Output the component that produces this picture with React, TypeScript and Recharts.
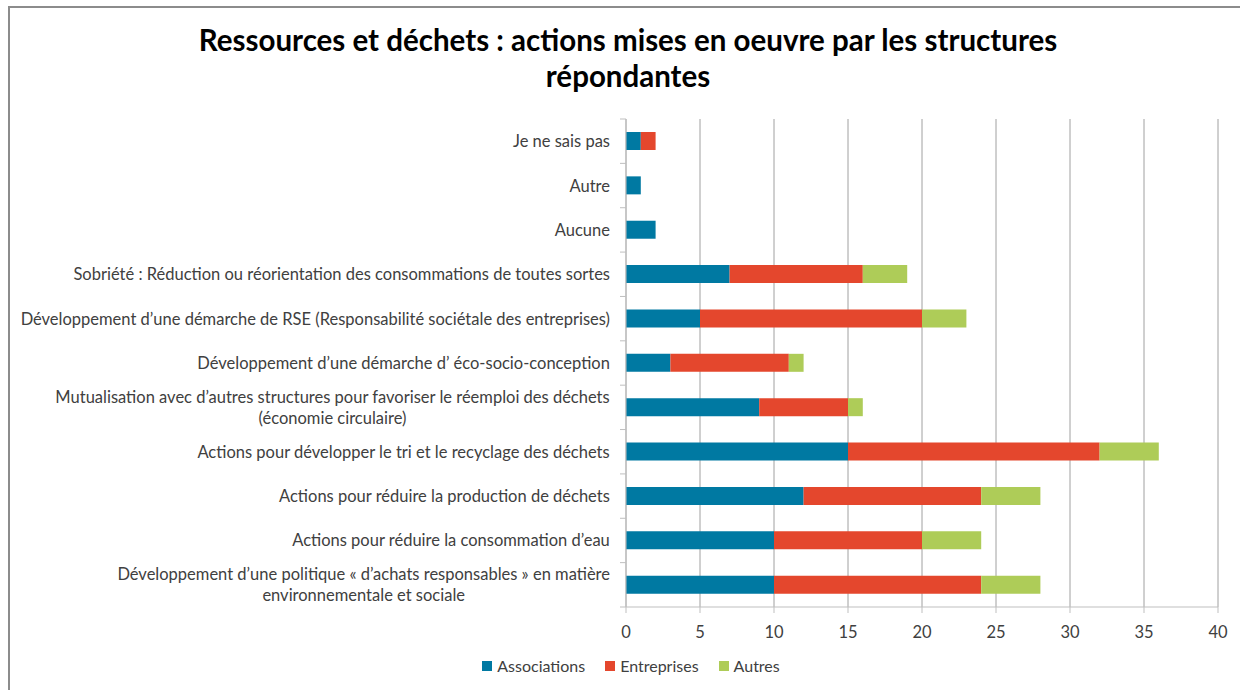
import React from "react";
import { BarChart, Bar, XAxis, YAxis, CartesianGrid } from "recharts";

const categories = [
  "Je ne sais pas",
  "Autre",
  "Aucune",
  "Sobriété : Réduction ou réorientation des consommations de toutes sortes",
  "Développement d’une démarche de RSE (Responsabilité sociétale des entreprises)",
  "Développement d’une démarche d’ éco-socio-conception",
  "Mutualisation avec d’autres structures pour favoriser le réemploi des déchets\n(économie circulaire)",
  "Actions pour développer le tri et le recyclage des déchets",
  "Actions pour réduire la production de déchets",
  "Actions pour réduire la consommation d’eau",
  "Développement d’une politique « d’achats responsables » en matière\nenvironnementale et sociale",
];
const associations = [1, 1, 2, 7, 5, 3, 9, 15, 12, 10, 10];
const entreprises = [1, 0, 0, 9, 15, 8, 6, 17, 12, 10, 14];
const autres = [0, 0, 0, 3, 3, 1, 1, 4, 4, 4, 4];
const xTicks = [0, 5, 10, 15, 20, 25, 30, 35, 40];
const seriesNames = ["Associations", "Entreprises", "Autres"];
const seriesColors = ["#0079A2", "#E4472D", "#AECC58"];

const data = categories.map((c, i) => ({
  name: c,
  Associations: associations[i],
  Entreprises: entreprises[i],
  Autres: autres[i],
}));

const FONT = "Lato, 'Open Sans', sans-serif";
const TEXT = "#404040";
const LABEL_SIZE = 16.5;
const BAND = 488 / categories.length;

let ctx: CanvasRenderingContext2D | null = null;
function measure(t: string): number {
  if (typeof document === "undefined") return t.length * 8;
  if (!ctx) ctx = document.createElement("canvas").getContext("2d");
  if (!ctx) return t.length * 8;
  ctx.font = `${LABEL_SIZE}px Lato`;
  return ctx.measureText(t).width;
}

const CatTick = (props: any) => {
  const { x, y, payload, index } = props;
  const lines = String(payload.value).split("\n");
  const lh = 21;
  const axisX = x;
  const right = axisX - 16;
  const maxW = Math.max(...lines.map(measure));
  const cx = right - maxW / 2;
  return (
    <g>
      <line x1={axisX - 6} x2={axisX} y1={y - BAND / 2} y2={y - BAND / 2} stroke="#bfbfbf" />
      {index === categories.length - 1 && (
        <line x1={axisX - 6} x2={axisX} y1={y + BAND / 2} y2={y + BAND / 2} stroke="#bfbfbf" />
      )}
      <text
        x={cx}
        y={y - ((lines.length - 1) * lh) / 2}
        textAnchor="middle"
        fill={TEXT}
        fontSize={LABEL_SIZE}
        fontFamily={FONT}
        dominantBaseline="central"
      >
        {lines.map((l, i) => (
          <tspan key={i} x={cx} dy={i === 0 ? 0 : lh}>
            {l}
          </tspan>
        ))}
      </text>
    </g>
  );
};

export default function App() {
  return (
    <div
      style={{
        position: "absolute",
        left: 0,
        top: 0,
        width: 1240,
        height: 690,
        overflow: "hidden",
        background: "#fff",
        fontFamily: FONT,
      }}
    >
      <div
        style={{
          position: "absolute",
          left: 8,
          top: 6,
          width: 1400,
          height: 800,
          borderTop: "2px solid #8c8c8c",
          borderLeft: "2px solid #8c8c8c",
        }}
      />
      <div
        style={{
          position: "absolute",
          left: 8,
          top: 22,
          width: 1240,
          textAlign: "center",
          fontWeight: 700,
          fontSize: 29.5,
          lineHeight: "36px",
          color: "#000",
          fontFamily: FONT,
        }}
      >
        Ressources et déchets : actions mises en oeuvre par les structures
        <br />
        répondantes
      </div>
      <div style={{ position: "absolute", left: 0, top: 0 }}>
        <BarChart
          width={1240}
          height={690}
          data={data}
          layout="vertical"
          margin={{ top: 119, right: 22, bottom: 0, left: 0 }}
          barSize={18}
        >
          <CartesianGrid horizontal={false} vertical stroke="#a0a0a0" />
          <XAxis
            type="number"
            domain={[0, 40]}
            ticks={xTicks}
            interval={0}
            stroke="#bfbfbf"
            tickSize={6}
            tickMargin={13}
            height={83}
            tick={{ fill: TEXT, fontSize: LABEL_SIZE, fontFamily: FONT }}
          />
          <YAxis
            type="category"
            dataKey="name"
            width={626}
            stroke="#bfbfbf"
            tickLine={false}
            tickSize={0}
            tickMargin={0}
            interval={0}
            tick={<CatTick />}
          />
          {seriesNames.map((s, i) => (
            <Bar key={s} dataKey={s} stackId="a" fill={seriesColors[i]} isAnimationActive={false} />
          ))}
        </BarChart>
      </div>
      <div
        style={{
          position: "absolute",
          left: 11,
          top: 655,
          width: 1240,
          display: "flex",
          justifyContent: "center",
          gap: 20,
          fontSize: 16,
          color: TEXT,
          fontFamily: FONT,
          lineHeight: "22px",
        }}
      >
        {seriesNames.map((s, i) => (
          <div key={s} style={{ display: "flex", alignItems: "center" }}>
            <span
              style={{
                display: "inline-block",
                width: 10,
                height: 10,
                background: seriesColors[i],
                marginRight: 5,
              }}
            />
            <span>{s}</span>
          </div>
        ))}
      </div>
    </div>
  );
}
